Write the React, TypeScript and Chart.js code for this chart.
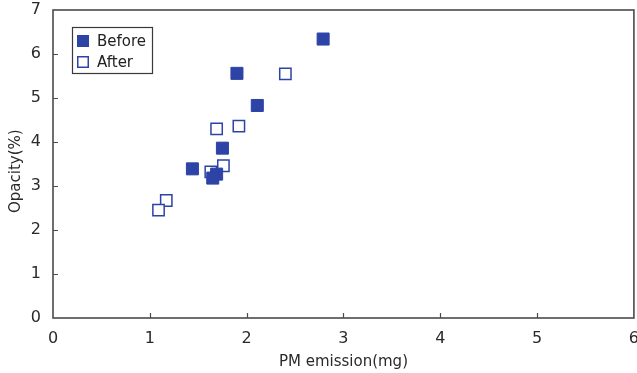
import React, { useEffect, useRef } from "react";
import { Chart, registerables } from "chart.js";

Chart.register(...registerables);

const seriesNames = ["Before", "After"];
const beforeX = [2.79, 1.9, 2.11, 1.75, 1.44, 1.69, 1.65];
const beforeY = [6.34, 5.56, 4.83, 3.86, 3.39, 3.27, 3.18];
const afterX = [2.4, 1.92, 1.69, 1.76, 1.63, 1.17, 1.09];
const afterY = [5.55, 4.36, 4.3, 3.46, 3.32, 2.67, 2.45];
const xTicks = [0, 1, 2, 3, 4, 5, 6];
const yTicks = [0, 1, 2, 3, 4, 5, 6, 7];
const xTitle = "PM emission(mg)";
const yTitle = "Opacity(%)";

const BLUE = "#2d43a6";
const AXIS = "#4a4a4a";
const FONT = "'DejaVu Sans', Verdana, sans-serif";

const framePlugin = {
  id: "frameAndLegend",
  afterDraw(chart: any) {
    const { ctx, chartArea } = chart;
    const { left, right, top, bottom } = chartArea;
    const xs = chart.scales.x;
    const ys = chart.scales.y;
    ctx.save();
    ctx.strokeStyle = AXIS;
    ctx.lineWidth = 1.6;
    ctx.strokeRect(left, top, right - left, bottom - top);
    ctx.lineWidth = 1.2;
    ctx.beginPath();
    xTicks.slice(1, -1).forEach((v) => {
      const px = Math.round(xs.getPixelForValue(v)) + 0.5;
      ctx.moveTo(px, bottom);
      ctx.lineTo(px, bottom - 5);
    });
    yTicks.slice(1, -1).forEach((v) => {
      const py = Math.round(ys.getPixelForValue(v)) + 0.5;
      ctx.moveTo(left, py);
      ctx.lineTo(left + 5, py);
    });
    ctx.stroke();

    // legend box
    const bx = 72.5;
    const by = 27.5;
    const bw = 80;
    const bh = 46;
    ctx.lineWidth = 1.2;
    ctx.strokeStyle = "#3a3a3a";
    ctx.fillStyle = "#ffffff";
    ctx.fillRect(bx, by, bw, bh);
    ctx.strokeRect(bx, by, bw, bh);
    ctx.font = `15px ${FONT}`;
    ctx.textBaseline = "middle";
    ctx.textAlign = "left";
    chart.data.datasets.forEach((ds: any, i: number) => {
      const cy = 41 + i * 21;
      const cx = 83;
      const s = 12;
      if (i === 0) {
        ctx.fillStyle = BLUE;
        ctx.fillRect(cx - s / 2, cy - s / 2, s, s);
      } else {
        ctx.strokeStyle = BLUE;
        ctx.lineWidth = 1.5;
        ctx.fillStyle = "#ffffff";
        ctx.fillRect(cx - s / 2, cy - s / 2, s, s);
        ctx.strokeRect(cx - s / 2 + 0.75, cy - s / 2 + 0.75, s - 1.5, s - 1.5);
      }
      ctx.fillStyle = "#222222";
      ctx.fillText(ds.label, 97, cy + 1);
    });
    ctx.restore();
  },
};

export default function App() {
  const ref = useRef<HTMLCanvasElement | null>(null);
  useEffect(() => {
    if (!ref.current) return;
    const chart = new Chart(ref.current, {
      type: "scatter",
      data: {
        datasets: [
          {
            label: seriesNames[0],
            data: beforeX.map((x, i) => ({ x, y: beforeY[i] })),
            pointStyle: "rect",
            pointRadius: 8.5,
            pointBackgroundColor: BLUE,
            pointBorderColor: BLUE,
            pointBorderWidth: 1,
          },
          {
            label: seriesNames[1],
            data: afterX.map((x, i) => ({ x, y: afterY[i] })),
            pointStyle: "rect",
            pointRadius: 8,
            pointBackgroundColor: "#ffffff",
            pointBorderColor: BLUE,
            pointBorderWidth: 1.5,
          },
        ],
      },
      options: {
        responsive: false,
        animation: false,
        layout: { padding: { top: 0, right: 16, left: 0, bottom: 0 } },
        plugins: {
          legend: { display: false },
          tooltip: { enabled: false },
        },
        scales: {
          x: {
            type: "linear",
            min: xTicks[0],
            max: xTicks[xTicks.length - 1],
            afterFit: (s: any) => {
              s.height = 55;
            },
            afterBuildTicks: (s: any) => {
              s.ticks = xTicks.map((v) => ({ value: v }));
            },
            grid: { display: false, drawTicks: false },
            border: { display: false },
            ticks: {
              padding: 11,
              color: "#2a2a2a",
              font: { family: FONT, size: 16 },
              maxRotation: 0,
              autoSkip: false,
            },
            title: {
              display: true,
              text: xTitle,
              color: "#2a2a2a",
              font: { family: FONT, size: 15 },
              padding: { top: 0, bottom: 2 },
            },
          },
          y: {
            type: "linear",
            min: yTicks[0],
            max: yTicks[yTicks.length - 1],
            afterFit: (s: any) => {
              s.width = 53;
              s.paddingTop = 10;
              s.paddingBottom = 0;
            },
            afterBuildTicks: (s: any) => {
              s.ticks = yTicks.map((v) => ({ value: v }));
            },
            grid: { display: false, drawTicks: false },
            border: { display: false },
            ticks: {
              padding: 12,
              color: "#2a2a2a",
              font: { family: FONT, size: 16 },
              autoSkip: false,
            },
            title: {
              display: true,
              text: yTitle + "   ",
              color: "#2a2a2a",
              font: { family: FONT, size: 15 },
              padding: { top: 7, bottom: 0 },
            },
          },
        },
      },
      plugins: [framePlugin],
    } as any);
    return () => chart.destroy();
  }, []);

  return (
    <div
      style={{
        position: "absolute",
        left: 0,
        top: 0,
        width: 637,
        height: 373,
        overflow: "hidden",
        background: "#ffffff",
      }}
    >
      <canvas ref={ref} width={650} height={373} style={{ display: "block" }} />
    </div>
  );
}
